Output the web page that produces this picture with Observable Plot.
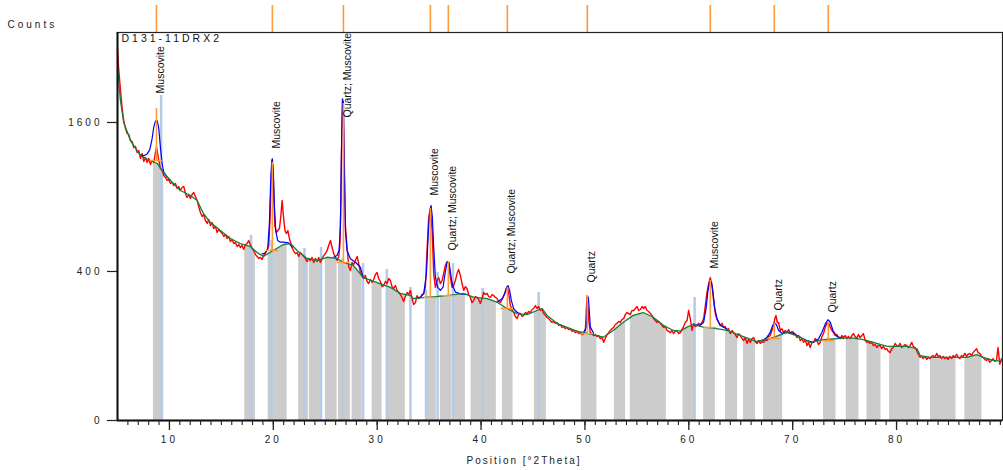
<!DOCTYPE html>
<html><head><meta charset="utf-8">
<script src="https://cdn.jsdelivr.net/npm/d3@7"></script>
<script src="https://cdn.jsdelivr.net/npm/@observablehq/plot@0.6"></script>
<style>html,body{margin:0;padding:0;background:#fff;}</style>
</head><body><div id="chart"></div>
<script>
// ---- data (2θ in degrees, intensity in counts) ----
const observed = [
[5.0,2500],[5.09,2270],[5.29,1962],[5.45,1754],[5.6,1621],[5.77,1536],[5.93,1484],[6.08,1474],[6.25,1412],[6.41,1402],[6.56,1343],[6.73,1353],[6.89,1294],[7.05,1313],[7.21,1237],[7.37,1284],[7.53,1209],[7.69,1246],[7.85,1199],[8.01,1237],[8.17,1181],[8.33,1218],[8.49,1199],[8.65,1294],[8.75,1343],[8.82,1313],[8.97,1218],[9.13,1144],[9.3,1126],[9.45,1081],[9.62,1064],[9.78,1038],[9.93,1046],[10.1,1012],[10.26,1021],[10.41,995],[10.58,1012],[10.74,970],[10.9,987],[11.06,953],[11.22,978],[11.38,987],[11.54,928],[11.7,896],[11.86,920],[12.02,888],[12.18,920],[12.34,937],[12.5,904],[12.67,872],[12.82,825],[12.98,779],[13.15,750],[13.3,765],[13.46,721],[13.63,699],[13.78,728],[13.95,685],[14.11,706],[14.26,664],[14.43,678],[14.59,637],[14.75,657],[14.91,644],[15.07,630],[15.23,610],[15.39,623],[15.55,597],[15.71,610],[15.87,577],[16.03,590],[16.19,564],[16.35,571],[16.52,545],[16.67,558],[16.83,539],[16.99,552],[17.15,527],[17.31,558],[17.48,564],[17.63,584],[17.8,552],[17.96,533],[18.11,521],[18.28,496],[18.44,485],[18.59,473],[18.76,479],[18.92,467],[19.08,490],[19.24,508],[19.4,521],[19.56,552],[19.68,721],[19.77,995],[19.87,1199],[19.96,1172],[20.06,872],[20.15,685],[20.3,637],[20.44,650],[20.59,664],[20.73,757],[20.85,872],[20.97,757],[21.12,650],[21.26,630],[21.4,650],[21.55,597],[21.69,564],[21.84,533],[21.98,515],[22.13,502],[22.29,508],[22.44,485],[22.61,508],[22.77,496],[22.93,485],[23.09,473],[23.25,455],[23.41,473],[23.57,461],[23.73,479],[23.89,450],[24.05,473],[24.22,455],[24.37,479],[24.53,450],[24.7,473],[24.85,490],[25.01,502],[25.18,521],[25.33,552],[25.5,584],[25.66,539],[25.81,502],[25.98,479],[26.14,461],[26.3,485],[26.41,552],[26.51,872],[26.6,1515],[26.67,1799],[26.75,1676],[26.85,1126],[26.94,685],[27.1,539],[27.26,427],[27.42,405],[27.58,450],[27.74,438],[27.9,461],[28.07,485],[28.22,444],[28.38,395],[28.54,374],[28.7,363],[28.86,379],[29.03,348],[29.18,338],[29.35,358],[29.51,343],[29.66,358],[29.83,384],[29.99,395],[30.14,363],[30.31,348],[30.47,323],[30.63,328],[30.79,348],[30.95,338],[31.11,363],[31.27,353],[31.43,323],[31.59,314],[31.75,328],[31.92,305],[32.07,295],[32.23,286],[32.39,273],[32.55,255],[32.71,277],[32.88,295],[33.03,286],[33.2,305],[33.36,268],[33.51,242],[33.68,251],[33.84,281],[33.99,268],[34.16,273],[34.32,286],[34.48,291],[34.64,319],[34.8,521],[34.96,742],[35.12,810],[35.29,650],[35.44,389],[35.6,319],[35.77,353],[35.92,368],[36.08,338],[36.25,353],[36.4,389],[36.56,433],[36.73,455],[36.88,444],[37.05,368],[37.21,319],[37.36,328],[37.53,353],[37.69,389],[37.84,411],[38.01,379],[38.17,338],[38.33,305],[38.49,323],[38.65,314],[38.81,286],[38.97,273],[39.13,251],[39.29,259],[39.45,277],[39.61,273],[39.77,264],[39.93,247],[40.1,268],[40.25,295],[40.41,286],[40.58,291],[40.73,277],[40.9,273],[41.06,286],[41.21,281],[41.38,273],[41.54,268],[41.69,255],[41.86,251],[42.02,264],[42.17,277],[42.34,300],[42.5,323],[42.65,295],[42.82,238],[42.98,222],[43.14,210],[43.3,195],[43.47,187],[43.62,202],[43.78,206],[43.95,195],[44.1,199],[44.26,210],[44.43,206],[44.58,214],[44.74,210],[44.91,222],[45.07,226],[45.23,238],[45.39,226],[45.54,234],[45.71,218],[45.87,222],[46.03,206],[46.19,199],[46.35,191],[46.51,187],[46.67,180],[46.83,173],[46.99,177],[47.15,170],[47.31,173],[47.47,163],[47.64,166],[47.8,156],[47.96,159],[48.11,152],[48.28,156],[48.43,149],[48.59,152],[48.76,143],[48.92,146],[49.08,139],[49.24,143],[49.4,136],[49.56,139],[49.72,133],[49.88,136],[50.04,146],[50.13,218],[50.21,281],[50.29,238],[50.37,180],[50.52,139],[50.68,136],[50.84,130],[51.0,133],[51.16,127],[51.32,130],[51.48,121],[51.65,124],[51.8,110],[51.96,121],[52.13,133],[52.28,139],[52.44,146],[52.61,152],[52.76,156],[52.93,166],[53.09,170],[53.25,177],[53.41,173],[53.57,184],[53.73,187],[53.89,202],[54.05,210],[54.21,206],[54.37,202],[54.53,218],[54.69,218],[54.85,226],[55.02,234],[55.17,218],[55.34,222],[55.5,234],[55.65,226],[55.81,234],[55.98,218],[56.13,214],[56.3,206],[56.46,199],[56.61,187],[56.78,180],[56.94,173],[57.09,177],[57.26,170],[57.42,163],[57.57,156],[57.74,159],[57.9,146],[58.06,143],[58.22,139],[58.38,146],[58.54,136],[58.7,143],[58.86,146],[59.02,136],[59.18,139],[59.34,149],[59.5,159],[59.66,173],[59.83,180],[59.98,218],[60.14,187],[60.31,146],[60.46,170],[60.62,159],[60.79,163],[60.94,170],[61.1,166],[61.27,173],[61.43,187],[61.59,238],[61.75,295],[61.91,338],[62.07,368],[62.24,328],[62.39,259],[62.55,206],[62.72,184],[62.87,173],[63.03,163],[63.2,170],[63.35,156],[63.51,159],[63.68,146],[63.83,152],[63.99,136],[64.16,146],[64.31,139],[64.48,133],[64.64,124],[64.8,136],[64.96,130],[65.12,121],[65.28,115],[65.44,124],[65.6,107],[65.76,118],[65.92,110],[66.09,121],[66.24,124],[66.4,112],[66.57,107],[66.72,115],[66.88,107],[67.05,112],[67.2,110],[67.36,118],[67.53,115],[67.68,127],[67.84,130],[68.0,146],[68.16,163],[68.28,187],[68.39,199],[68.52,173],[68.64,173],[68.81,146],[68.97,152],[69.13,139],[69.29,146],[69.45,139],[69.61,149],[69.77,136],[69.93,143],[70.09,139],[70.25,133],[70.42,124],[70.57,130],[70.73,115],[70.9,121],[71.05,110],[71.21,118],[71.38,101],[71.53,110],[71.69,96],[71.86,110],[72.01,110],[72.17,121],[72.34,115],[72.49,104],[72.65,110],[72.82,127],[72.97,136],[73.13,156],[73.3,170],[73.45,173],[73.62,156],[73.78,146],[73.93,139],[74.1,130],[74.26,133],[74.41,124],[74.58,121],[74.74,130],[74.89,124],[75.06,130],[75.22,121],[75.37,127],[75.54,121],[75.7,130],[75.85,136],[76.02,127],[76.18,121],[76.33,133],[76.5,124],[76.66,130],[76.81,136],[76.98,115],[77.14,110],[77.29,112],[77.46,107],[77.62,110],[77.77,101],[77.94,104],[78.1,96],[78.25,101],[78.42,101],[78.58,93],[78.73,99],[78.9,91],[79.06,93],[79.21,86],[79.38,83],[79.54,93],[79.69,96],[79.86,107],[80.02,101],[80.17,99],[80.34,107],[80.5,96],[80.65,99],[80.82,104],[80.98,101],[81.13,96],[81.3,101],[81.46,110],[81.61,99],[81.78,96],[81.94,88],[82.09,79],[82.25,72],[82.42,74],[82.57,69],[82.74,74],[82.9,67],[83.05,72],[83.22,69],[83.38,74],[83.53,76],[83.7,72],[83.86,81],[84.01,74],[84.18,76],[84.34,69],[84.49,74],[84.66,69],[84.82,72],[84.97,67],[85.14,74],[85.3,69],[85.45,76],[85.61,72],[85.78,79],[85.93,72],[86.1,69],[86.26,76],[86.41,74],[86.58,81],[86.74,74],[86.89,79],[87.06,81],[87.22,76],[87.37,83],[87.54,88],[87.7,93],[87.85,83],[88.02,81],[88.18,74],[88.33,72],[88.5,67],[88.66,65],[88.81,69],[88.97,61],[89.14,65],[89.29,69],[89.45,63],[89.62,65],[89.77,96],[89.94,57],[90.1,69]
];
const background = [
[5.0,2250],[5.28,1845],[5.6,1600],[6.25,1412],[7.2,1265],[8.17,1218],[8.82,1190],[9.42,1108],[10.1,1038],[11.06,953],[12.02,912],[12.67,872],[13.27,772],[13.95,706],[14.91,650],[15.87,597],[16.83,564],[17.8,545],[18.44,508],[19.05,485],[20.0,521],[20.97,558],[21.65,564],[22.29,521],[23.25,473],[24.22,461],[25.18,480],[26.14,473],[26.75,450],[27.71,433],[28.67,368],[29.99,343],[31.27,319],[32.23,291],[33.2,281],[33.48,268],[34.64,273],[35.77,277],[37.05,283],[38.3,291],[39.26,274],[40.58,268],[41.54,252],[42.5,226],[43.47,206],[44.43,202],[45.39,218],[45.87,226],[46.35,199],[47.31,170],[48.28,156],[49.24,144],[50.2,137],[51.16,130],[51.77,125],[52.73,146],[53.7,174],[54.66,199],[55.62,210],[56.58,192],[57.55,163],[58.51,146],[59.18,144],[59.83,157],[60.43,166],[61.4,157],[62.36,154],[63.68,146],[65.25,127],[66.56,112],[67.84,121],[69.45,140],[70.73,125],[71.69,110],[72.94,118],[74.26,121],[75.54,124],[76.8,118],[77.76,110],[79.08,99],[81.0,99],[81.96,93],[82.28,76],[83.24,72],[86.78,72],[87.74,78],[88.34,72],[89.31,65],[90.17,63]
];
// calculated profile around each fitted peak: [2θ, counts, peak #]
const calculated = [
[7.21,1270,1],[7.53,1262,1],[7.85,1280,1],[8.1,1320,1],[8.33,1430,1],[8.49,1550,1],[8.65,1614,1],[8.82,1621,1],[8.97,1543,1],[9.13,1346,1],[9.3,1187,1],[9.45,1111,1],[9.78,1067,1],[10.1,1038,1],
[18.92,500,2],[19.24,505,2],[19.46,531,2],[19.62,697,2],[19.75,1038,2],[19.85,1218,2],[19.91,1234,2],[20.01,1096,2],[20.11,820,2],[20.23,650,2],[20.42,584,2],[20.68,573,2],[21.0,573,2],[21.48,569,2],[21.81,541,2],
[25.81,480,3],[26.14,490,3],[26.33,521,3],[26.46,673,3],[26.55,1249,3],[26.65,1865,3],[26.75,1825,3],[26.84,1096,3],[26.94,650,3],[27.1,521,3],[27.42,471,3],[27.9,451,3],[28.38,423,3],[28.67,368,3],
[33.51,267,4],[34.16,274,4],[34.48,289,4],[34.74,388,4],[34.93,650,4],[35.06,795,4],[35.19,833,4],[35.31,745,4],[35.44,541,4],[35.6,370,4],[35.82,320,4],[36.08,305,4],[36.34,320,4],[36.53,388,4],[36.73,451,4],[36.92,451,4],[37.07,388,4],[37.26,328,4],[37.53,297,4],[38.01,289,4],[38.65,286,4],
[41.54,252,5],[42.02,267,5],[42.27,289,5],[42.44,317,5],[42.6,328,5],[42.75,305,5],[42.92,259,5],[43.14,225,5],[43.47,211,5],[43.78,205,5],
[49.88,140,6],[50.13,157,6],[50.23,245,6],[50.33,274,6],[50.42,218,6],[50.52,157,6],[50.84,137,6],
[60.46,166,7],[61.1,163,7],[61.43,174,7],[61.66,225,7],[61.85,305,7],[62.01,350,7],[62.18,345,7],[62.33,297,7],[62.48,231,7],[62.72,186,7],[63.03,163,7],[63.68,151,7],
[66.56,112,8],[67.2,117,8],[67.53,125,8],[67.84,140,8],[68.07,163,8],[68.23,171,8],[68.43,166,8],[68.65,146,8],[68.97,137,8],[69.45,140,8],[70.09,137,8],[70.73,125,8],
[71.37,115,9],[72.0,110,9],[72.49,120,9],[72.82,140,9],[73.14,168,9],[73.4,183,9],[73.62,174,9],[73.88,146,9],[74.26,127,9],[74.9,121,9]
];
const peakPos    = [8.75, 19.91, 26.75, 35.12, 36.85, 42.53, 50.23, 62.07, 68.23, 73.43];
const peakTop    = [1754, 1200, 1810, 810, 450, 319, 281, 353, 170, 173];
const peakBase   = [1218, 521, 450, 273, 281, 226, 136, 156, 121, 115];
const peakLabel  = ["Muscovite","Muscovite","Quartz; Muscovite","Muscovite","Quartz; Muscovite","Quartz; Muscovite","Quartz","Muscovite","Quartz","Quartz"];
const peakLabelAt = [1927, 1333, 1654, 912, 521, 389, 343, 416, 218, 210];
const refPos    = [9.2, 17.86, 19.83, 23.0, 24.6, 26.65, 28.64, 30.93, 33.2, 34.71, 35.82, 37.3, 40.15, 45.54, 60.56];
const refHeight = [1903, 617, 584, 533, 539, 470, 444, 411, 319, 305, 395, 444, 314, 295, 273];
const grayBands = [[8.46,9.45],[17.25,18.28],[19.5,21.33],[22.44,23.38],[23.47,24.7],[25.01,26.14],[26.27,27.42],[27.58,28.55],[29.51,30.47],[30.95,32.71],[34.64,35.7],[36.08,37.21],[37.43,38.49],[39.04,41.47],[42.05,43.08],[45.13,46.29],[49.65,51.16],[52.83,53.92],[54.37,57.84],[59.44,60.63],[61.43,62.56],[63.54,64.7],[65.27,66.43],[67.2,69.03],[72.97,74.17],[75.16,76.38],[77.15,78.5],[79.33,82.25],[83.27,85.72],[86.58,88.22]];
const xDomain = [5, 90.2];
const yDomain = [0, 2712];
const xTickLabels = [10, 20, 30, 40, 50, 60, 70, 80];
const yTicks = [0, 400, 1600];
const titleText = "D131-11DRX2";
const yLabelText = "Counts";
const xLabelText = "Position [°2Theta]";

// ---- derived tables ----
const peaks = peakPos.map((p, i) => ({pos: p, top: peakTop[i], base: peakBase[i], label: peakLabel[i], labelAt: peakLabelAt[i]}));
const refs = refPos.map((p, i) => ({pos: p, h: refHeight[i]}));
const gaps = [];
let prev = xDomain[0];
for (const [a, b] of grayBands) { if (a > prev) gaps.push([prev, a]); prev = b; }
if (prev < xDomain[1]) gaps.push([prev, xDomain[1]]);
const minorTicks = d3.range(6, 91, 1);

const ORANGE = "#ff9a3a";
const plot = Plot.plot({
  width: 1003, height: 470,
  marginLeft: 117, marginRight: 1, marginTop: 32, marginBottom: 50,
  style: {fontFamily: "'Liberation Sans', Arial, sans-serif", fontSize: "10px", color: "#222", background: "#fff", overflow: "visible"},
  x: {domain: xDomain},
  y: {type: "sqrt", domain: yDomain},
  marks: [
    Plot.areaY(background, {x: d => d[0], y: d => d[1], fill: "#cccccc"}),
    Plot.rect(gaps, {x1: d => d[0], x2: d => d[1], fill: "white"}),
    Plot.ruleX(refs, {x: "pos", y1: 0, y2: "h", stroke: "#b5cbe8", strokeWidth: 2.5}),
    Plot.line(observed, {x: d => d[0], y: d => d[1], stroke: "#ff0000", strokeWidth: 1.4}),
    Plot.line(calculated, {x: d => d[0], y: d => d[1], z: d => d[2], stroke: "#0000ff", strokeWidth: 1.2}),
    Plot.line(background, {x: d => d[0], y: d => d[1], stroke: "#15803a", strokeWidth: 1.3}),
    Plot.ruleX(peaks, {x: "pos", y1: "base", y2: "top", stroke: ORANGE, strokeWidth: 1.6}),
    Plot.ruleY(peaks, {y: "base", x1: d => d.pos - 0.6, x2: d => d.pos + 0.6, stroke: ORANGE, strokeWidth: 1.4}),
    Plot.ruleX(peaks, {x: "pos", y1: yDomain[1], y2: yDomain[1], insetTop: -27, stroke: ORANGE, strokeWidth: 1.6}),
    Plot.text(peaks, {x: "pos", y: "labelAt", text: "label", rotate: -90, textAnchor: "start", lineAnchor: "middle", dx: 4, fontSize: 10.5, fill: "#111"}),
    Plot.frame({stroke: "#222", strokeWidth: 1.2}),
    Plot.ruleY([yDomain[0]], {stroke: "#111", strokeWidth: 2}),
    Plot.ruleX([xDomain[0]], {stroke: "#111", strokeWidth: 2}),
    Plot.axisY(yTicks, {tickSize: 10, tickPadding: 5, label: null, strokeWidth: 1.2, tickFormat: d => String(d)}),
    Plot.axisX(xTickLabels, {tickSize: 10, tickPadding: 5, label: null, strokeWidth: 1.3, tickFormat: d => String(d)}),
    Plot.axisX(minorTicks, {tickSize: 5, text: null, label: null, strokeWidth: 1.1}),
    Plot.text([titleText], {text: d => d, frameAnchor: "top-left", dx: 4, dy: 2, textAnchor: "start", lineAnchor: "top", fontSize: 10.5, fill: "#111"}),
    Plot.text([yLabelText], {text: d => d, frameAnchor: "top-left", dx: -110, dy: -11.5, textAnchor: "start", lineAnchor: "top", fontSize: 10, fill: "#222"}),
    Plot.text([xLabelText], {text: d => d, frameAnchor: "bottom", dx: -36, dy: 36.5, textAnchor: "middle", lineAnchor: "top", fontSize: 10, fill: "#222"})
  ]
});
// spaced-out lettering for axis texts, title and axis labels (peak labels keep normal spacing)
plot.querySelectorAll("text").forEach(t => {
  const s = t.textContent;
  if (peakLabel.includes(s)) { t.style.letterSpacing = "0px"; return; }
  t.style.letterSpacing = (s === xLabelText) ? "2px" : "3px";
});
document.getElementById("chart").appendChild(plot);
</script>
</body></html>
